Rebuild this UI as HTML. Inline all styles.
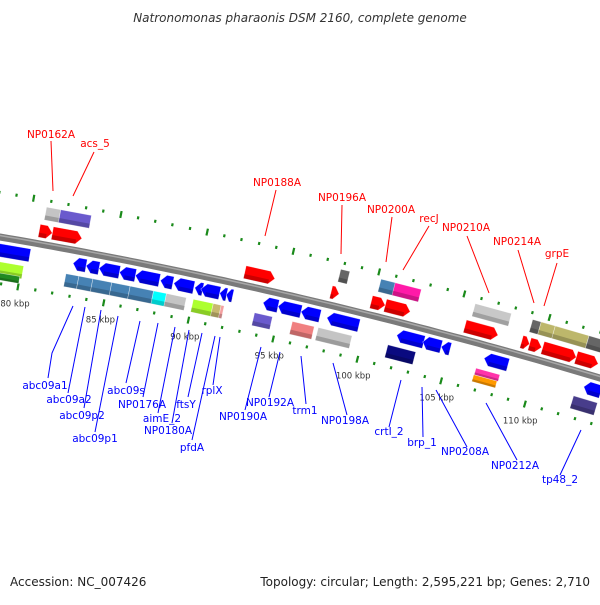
<!DOCTYPE html>
<html><head><meta charset="utf-8"><style>
html,body{margin:0;padding:0;background:#fff}
svg text{font-family:"DejaVu Sans","Liberation Sans",sans-serif}
</style></head><body>
<svg id="map" xmlns="http://www.w3.org/2000/svg" width="600" height="600" viewBox="0 0 600 600">
<rect width="600" height="600" fill="#fff"/>
<text x="300" y="22" text-anchor="middle" font-size="12" font-style="italic" fill="#333">Natronomonas pharaonis DSM 2160, complete genome</text>
<g id="ticks"></g>
<g id="backbone"></g>
<g id="features"></g>
<g id="labels"></g>
<text x="10" y="586" font-size="12" fill="#222">Accession: NC_007426</text>
<text x="590" y="586" font-size="12" fill="#222" text-anchor="end">Topology: circular; Length: 2,595,221 bp; Genes: 2,710</text>
</svg>
<script>
const upperStarts = [80.62,81.38,92.56,97.62,99.97,100.79,105.5,108.85,109.32,110.09,112.09];
const upperEnds   = [81.38,83.09,94.32,98.09,100.79,102.26,107.44,109.32,110.03,112.09,113.38];
const upper2Starts = [80.79,81.62,97.85,100.2,101.03,105.74,109.1,109.62,110.44,112.44];
const upper2Ends   = [81.62,83.38,98.38,101.09,102.56,107.85,109.62,110.44,112.44,113.9];
const upper2Colors = ["#c4c4c4","#6a5acd","#666666","#4682b4","#ff1aa8","#c8c8c8","#666666","#bdb76b","#bdb76b","#666666"];
const lowerStarts = [78.2,82.85,83.62,84.38,85.56,86.5,87.97,88.74,89.97,90.32,91.44,91.8,93.97,94.85,96.21,97.74,101.85,103.38,104.5,107.03,112.97];
const lowerEnds   = [80.32,83.62,84.38,85.56,86.5,87.91,88.68,89.91,90.44,91.44,91.85,92.2,94.85,96.21,97.32,99.62,103.44,104.5,105.03,108.44,114];
const lower2Starts = [78.2,82.56,83.32,84.15,85.26,86.32,87.68,88.44,90.03,91.21,91.68,93.62,95.85,97.38,101.5,112.56];
const lower2Ends   = [80.09,83.32,84.15,85.26,86.32,87.68,88.44,89.62,91.21,91.68,91.85,94.68,97.15,99.38,103.15,114];
const lower2Colors = ["#adff2f","#4682b4","#4682b4","#4682b4","#4682b4","#4682b4","#00ffff","#c4c4c4","#adff2f","#c8b870","#f4a0a0","#6a5acd","#f08080","#c4c4c4","#0a0a80","#483d8b"];
const extraStarts = [78.2,106.74,106.7];
const extraEnds   = [80.0,108.15,108.1];
const extraOffsets = [39,28,35];
const extraColors = ["#228b22","#ff33aa","#ff9900"];
const tickMin = 77, tickMax = 115;
const tickLabelKbp = [80,85,90,95,100,105,110];

const NS="http://www.w3.org/2000/svg";
function yc(x){return 237+0.1717*x+1.056e-4*x*x;}
const tbl=[];let acc=0;
for(let x=-60;x<=680;x+=0.5){if(tbl.length){const p=tbl[tbl.length-1];acc+=Math.hypot(0.5,yc(x)-yc(p.x));}tbl.push({x:x,s:acc});}
function sOfX(x){for(const t of tbl){if(t.x>=x)return t.s;}return acc;}
const s80=sOfX(26.5);const PPK=17.5;
function P(kbp,off){
  const s=s80+(kbp-80)*PPK;let lo=0,hi=tbl.length-1;
  while(hi-lo>1){const m=(lo+hi)>>1;if(tbl[m].s<s)lo=m;else hi=m;}
  const x=tbl[lo].x;const sl=0.1717+2*1.056e-4*x;const a=Math.atan(sl);
  return [x-Math.sin(a)*off, yc(x)+Math.cos(a)*off];
}
function mk(tag,attrs,parent){const e=document.createElementNS(NS,tag);for(const k in attrs)e.setAttribute(k,attrs[k]);parent.appendChild(e);return e;}
const bb=document.getElementById('backbone');
let d='';for(let k=74;k<=118;k+=0.5){const p=P(k,0);d+=(d?'L':'M')+p[0].toFixed(1)+' '+p[1].toFixed(1);}
const bl=mk('path',{d:d,fill:'none',stroke:'#7a7a7a','stroke-width':7},bb);


mk('path',{d:d,fill:'none',stroke:'#a8a8a8','stroke-width':1.5,transform:'translate(0,-1.5)'},bb);
const tg=document.getElementById('ticks');
for(let k=tickMin;k<=tickMax;k++){
  const major=k%5===0;const len=major?3.5:1.5;
  for(const off of [-44,46]){
    const a=P(k,off-len),b=P(k,off+len);
    const l=mk('line',{x1:a[0],y1:a[1],x2:b[0],y2:b[1],stroke:'#1a8a1a','stroke-width':2.2},tg);
    
    
  }
}
tickLabelKbp.forEach(k=>{const p=P(k,63);const t=mk('text',{x:p[0],y:p[1]+3,'font-size':8.5,fill:'#333','text-anchor':'middle'},tg);t.textContent=k+' kbp';
  
  });
const fg=document.getElementById('features');
function feat(k1,k2,off,h,col,dir){
  const pts=[];const hh=h/2;const head=Math.min(5.5/PPK,(k2-k1)*0.6);
  if(dir===1){pts.push(P(k1,off-hh),P(k2-head,off-hh),P(k2,off),P(k2-head,off+hh),P(k1,off+hh));}
  else if(dir===-1){pts.push(P(k1,off),P(k1+head,off-hh),P(k2,off-hh),P(k2,off+hh),P(k1+head,off+hh));}
  else{pts.push(P(k1,off-hh),P(k2,off-hh),P(k2,off+hh),P(k1,off+hh));}
  const s=pts.map(p=>p[0].toFixed(1)+','+p[1].toFixed(1)).join(' ');
  const pg=mk('polygon',{points:s,fill:col,stroke:'rgba(255,255,255,0.6)','stroke-width':0.6},fg);
  
  
  const q=[P(k1+(dir===-1?head:0),off+hh*0.3),P(k2-(dir===1?head:0),off+hh*0.3),P(k2-(dir===1?head:0),off+hh),P(k1+(dir===-1?head:0),off+hh)];
  mk('polygon',{points:q.map(p=>p[0].toFixed(1)+','+p[1].toFixed(1)).join(' '),fill:'rgba(0,0,0,0.2)'},fg);
}
upperStarts.forEach((k,i)=>feat(k,upperEnds[i],-13,13,'#ff0000',1));
upper2Starts.forEach((k,i)=>feat(k,upper2Ends[i],-31,13,upper2Colors[i],0));
lowerStarts.forEach((k,i)=>feat(k,lowerEnds[i],13,13,'#0000ff',i===0?0:-1));
lower2Starts.forEach((k,i)=>feat(k,lower2Ends[i],31,13,lower2Colors[i],0));
extraStarts.forEach((k,i)=>feat(k,extraEnds[i],extraOffsets[i],7,extraColors[i],0));
const lg=document.getElementById('labels');
const labels=[
["NP0162A",51,138,"#f00",[[51,141],[53,191]]],
["acs_5",95,147,"#f00",[[94,152],[73,196]]],
["NP0188A",277,186,"#f00",[[276,190],[265,236]]],
["NP0196A",342,201,"#f00",[[342,205],[341,254]]],
["NP0200A",391,213,"#f00",[[392,217],[386,262]]],
["recJ",429,222,"#f00",[[429,226],[403,270]]],
["NP0210A",466,231,"#f00",[[467,236],[489,293]]],
["NP0214A",517,245,"#f00",[[518,250],[534,303]]],
["grpE",557,257,"#f00",[[557,263],[544,306]]],
["abc09a1",45,389,"#00f",[[73,306],[52,353],[48,378]]],
["abc09a2",69,403,"#00f",[[85,307],[68,393]]],
["abc09p2",82,419,"#00f",[[101,310],[84,408]]],
["abc09p1",95,442,"#00f",[[118,316],[95,432]]],
["abc09s",126,394,"#00f",[[140,321],[126,383]]],
["NP0176A",142,408,"#00f",[[158,323],[143,397]]],
["aimE_2",162,422,"#00f",[[175,327],[158,413]]],
["NP0180A",168,434,"#00f",[[189,330],[172,423]]],
["ftsY",186,408,"#00f",[[202,333],[188,397]]],
["rplX",212,394,"#00f",[[220,337],[213,385]]],
["pfdA",192,451,"#00f",[[215,336],[192,440]]],
["NP0190A",243,420,"#00f",[[261,347],[245,410]]],
["NP0192A",270,406,"#00f",[[280,352],[269,397]]],
["trm1",305,414,"#00f",[[301,356],[306,404]]],
["NP0198A",345,424,"#00f",[[333,363],[347,415]]],
["crtI_2",389,435,"#00f",[[401,380],[389,427]]],
["brp_1",422,446,"#00f",[[422,387],[423,437]]],
["NP0208A",465,455,"#00f",[[436,390],[467,447]]],
["NP0212A",515,469,"#00f",[[486,403],[517,460]]],
["tp48_2",560,483,"#00f",[[581,430],[560,475]]]
];
labels.forEach(L=>{
  const pl=mk('polyline',{points:L[4].map(p=>p.join(',')).join(' '),fill:'none',stroke:L[3],'stroke-width':1},lg);
  
  
  const t=mk('text',{x:L[1],y:L[2],'font-size':10.5,fill:L[3],'text-anchor':'middle'},lg);
  t.textContent=L[0];
  
  
});
</script>
</body></html>
